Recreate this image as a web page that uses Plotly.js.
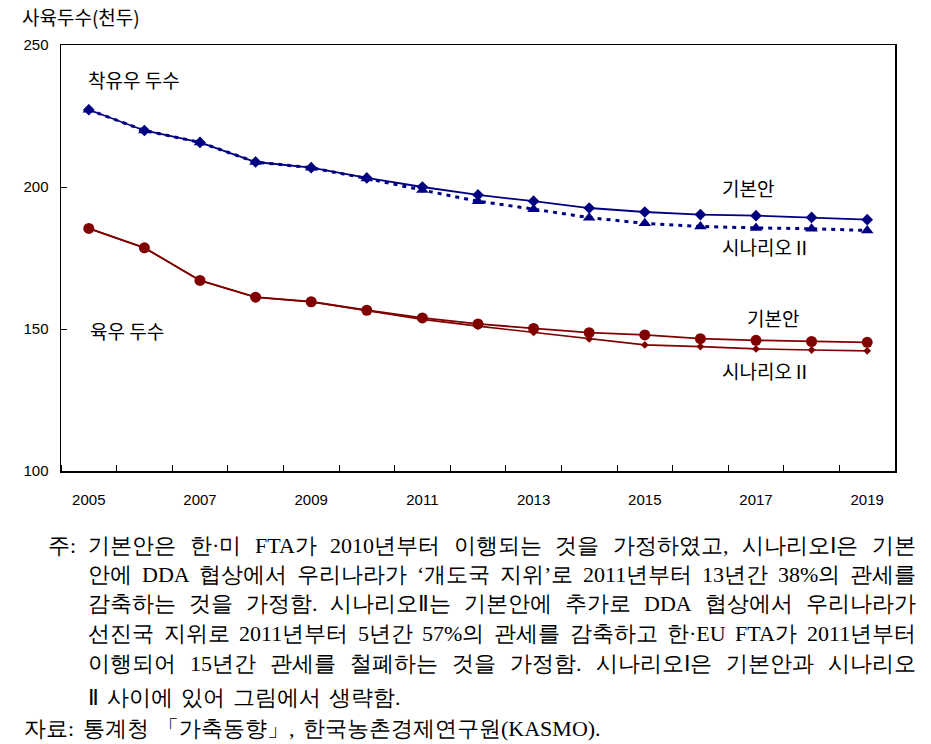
<!DOCTYPE html>
<html><head><meta charset="utf-8">
<script src="https://cdn.plot.ly/plotly-3.0.1.min.js"></script>
<style>body{margin:0;background:#fff}#chart{width:931px;height:744px}</style>
</head><body><div id="chart"></div>
<script>
// ---- data ----
const years = [2005,2006,2007,2008,2009,2010,2011,2012,2013,2014,2015,2016,2017,2018,2019];
const dairyBase  = [227.2,219.9,215.7,208.8,206.8,203.2,200.0,197.2,195.0,192.6,191.2,190.3,189.9,189.3,188.5];
const dairyScen2 = [227.2,219.9,215.7,208.8,206.8,203.0,198.9,195.0,192.2,189.2,187.2,186.1,185.6,185.3,184.7];
const beefBase   = [185.4,178.6,167.1,161.2,159.6,156.6,153.9,151.8,150.2,148.7,147.9,146.6,146.0,145.6,145.3];
const beefScen2  = [185.4,178.6,167.1,161.2,159.6,156.5,153.4,151.0,148.8,146.5,144.4,143.8,143.0,142.6,142.3];
const yTickVals = [100,150,200,250];
const xLabelYears = [2005,2007,2009,2011,2013,2015,2017,2019];
const yAxisTitle = "사육두수(천두)";
const labelDairy = "착유우 두수";
const labelBeef = "육우 두수";
const labelBase = "기본안";
const labelScen2 = "시나리오Ⅱ";
const notePrefix = "주:";
const noteLines = [
  "기본안은 한·미 FTA가 2010년부터 이행되는 것을 가정하였고, 시나리오Ⅰ은 기본",
  "안에 DDA 협상에서 우리나라가 ‘개도국 지위’로 2011년부터 13년간 38%의 관세를",
  "감축하는 것을 가정함. 시나리오Ⅱ는 기본안에 추가로 DDA 협상에서 우리나라가",
  "선진국 지위로 2011년부터 5년간 57%의 관세를 감축하고 한·EU FTA가 2011년부터",
  "이행되어 15년간 관세를 철폐하는 것을 가정함. 시나리오Ⅰ은 기본안과 시나리오",
  "Ⅱ 사이에 있어 그림에서 생략함."
];
const sourcePrefix = "자료:";
const sourceText = "통계청 「가축동향」, 한국농촌경제연구원(KASMO).";

// ---- layout helpers ----
const W = 931, H = 744;
const PL = 61, PR = 895, PT = 45, PB = 471;
const px2x = px => (px - PL) / (PR - PL);
const py2y = py => (PB - py) / (PB - PT);
const NAVY = '#000080', MAROON = '#800000';
const KFONT = 'Noto Sans CJK KR';
const NOTE_FONT = 'Liberation Serif';
const NOTE_SIZE = 22;
const LABEL_SIZE = 19;
const MIN_GAP = 8;

const traces = [
  {x: years, y: dairyBase, mode: 'lines+markers', line: {color: NAVY, width: 1.8},
   marker: {symbol: 'diamond', size: 9, color: NAVY}, hoverinfo: 'skip'},
  {x: years, y: dairyScen2, mode: 'lines+markers', line: {color: NAVY, width: 3, dash: '4px,5px'},
   marker: {symbol: 'triangle-up', size: 11, color: NAVY}, hoverinfo: 'skip'},
  {x: years, y: beefScen2, mode: 'lines+markers', line: {color: MAROON, width: 1.6},
   marker: {symbol: 'diamond', size: 6, color: MAROON}, hoverinfo: 'skip'},
  {x: years, y: beefBase, mode: 'lines+markers', line: {color: MAROON, width: 1.8},
   marker: {symbol: 'circle', size: 11, color: MAROON}, hoverinfo: 'skip'}
];

const ann = [];
function addText(text, px, py, size, family, color) {
  ann.push({text: text, xref: 'paper', yref: 'paper', x: px2x(px), y: py2y(py),
    xanchor: 'left', yanchor: 'middle', showarrow: false, borderpad: 0,
    font: {size: size, family: family, color: color || '#000'}});
}
addText(yAxisTitle, 21, 17, LABEL_SIZE, KFONT);
addText(labelDairy, 87, 80, LABEL_SIZE, KFONT);
addText(labelBase, 721, 187, LABEL_SIZE, KFONT);
addText(labelScen2, 721, 247, LABEL_SIZE, KFONT);
addText(labelBeef, 89, 330, LABEL_SIZE, KFONT);
addText(labelBase, 746, 317, LABEL_SIZE, KFONT);
addText(labelScen2, 721, 370, LABEL_SIZE, KFONT);

const ctx = document.createElement('canvas').getContext('2d');
ctx.font = NOTE_SIZE + 'px "' + NOTE_FONT + '"';
function addJustified(text, left, right, py) {
  const words = text.split(' ');
  const widths = words.map(w => ctx.measureText(w).width);
  const total = widths.reduce((a, b) => a + b, 0);
  let gap = words.length > 1 ? (right - left - total) / (words.length - 1) : 0;
  gap = Math.max(gap, MIN_GAP);
  let x = left;
  words.forEach((w, i) => { addText(w, x, py, NOTE_SIZE, NOTE_FONT, '#000'); x += widths[i] + gap; });
}
const noteY = [545, 574, 603, 633, 663, 697];
const noteRight = [915, 915, 915, 915, 915, 355];
addText(notePrefix, 47, noteY[0], NOTE_SIZE, NOTE_FONT, '#000');
noteLines.forEach((ln, i) => addJustified(ln, 87, noteRight[i], noteY[i]));
addText(sourcePrefix, 23, 728, NOTE_SIZE, NOTE_FONT, '#000');
addJustified(sourceText, 82, 593, 728);

const layout = {
  width: W, height: H,
  margin: {l: PL, r: W - PR, t: PT, b: H - PB, pad: 0},
  paper_bgcolor: '#fff', plot_bgcolor: '#fff',
  showlegend: false,
  font: {family: 'Liberation Sans', size: 15, color: '#000'},
  xaxis: {
    range: [years[0] - 0.5, years[years.length - 1] + 0.5],
    tickmode: 'array', tickvals: xLabelYears, ticktext: xLabelYears.map(String),
    ticks: '', showgrid: false, zeroline: false,
    showline: true, linecolor: '#000', linewidth: 1.5, mirror: true,
    ticklabelstandoff: 14,
    minor: {tickmode: 'linear', tick0: years[0] + 0.5, dtick: 1, ticks: 'inside', ticklen: 6,
            tickcolor: '#000', tickwidth: 1, showgrid: false},
    tickfont: {size: 15, family: 'Liberation Sans'}
  },
  yaxis: {
    range: [yTickVals[0], yTickVals[yTickVals.length - 1]],
    tickmode: 'array', tickvals: yTickVals,
    ticks: 'inside', ticklen: 6, tickcolor: '#000', tickwidth: 1,
    showgrid: false, zeroline: false,
    showline: true, linecolor: '#000', linewidth: 1.5, mirror: true,
    ticklabelstandoff: 8,
    tickfont: {size: 15, family: 'Liberation Sans'}
  },
  annotations: ann
};
Plotly.newPlot('chart', traces, layout, {staticPlot: true, displayModeBar: false});
</script>
</body></html>
